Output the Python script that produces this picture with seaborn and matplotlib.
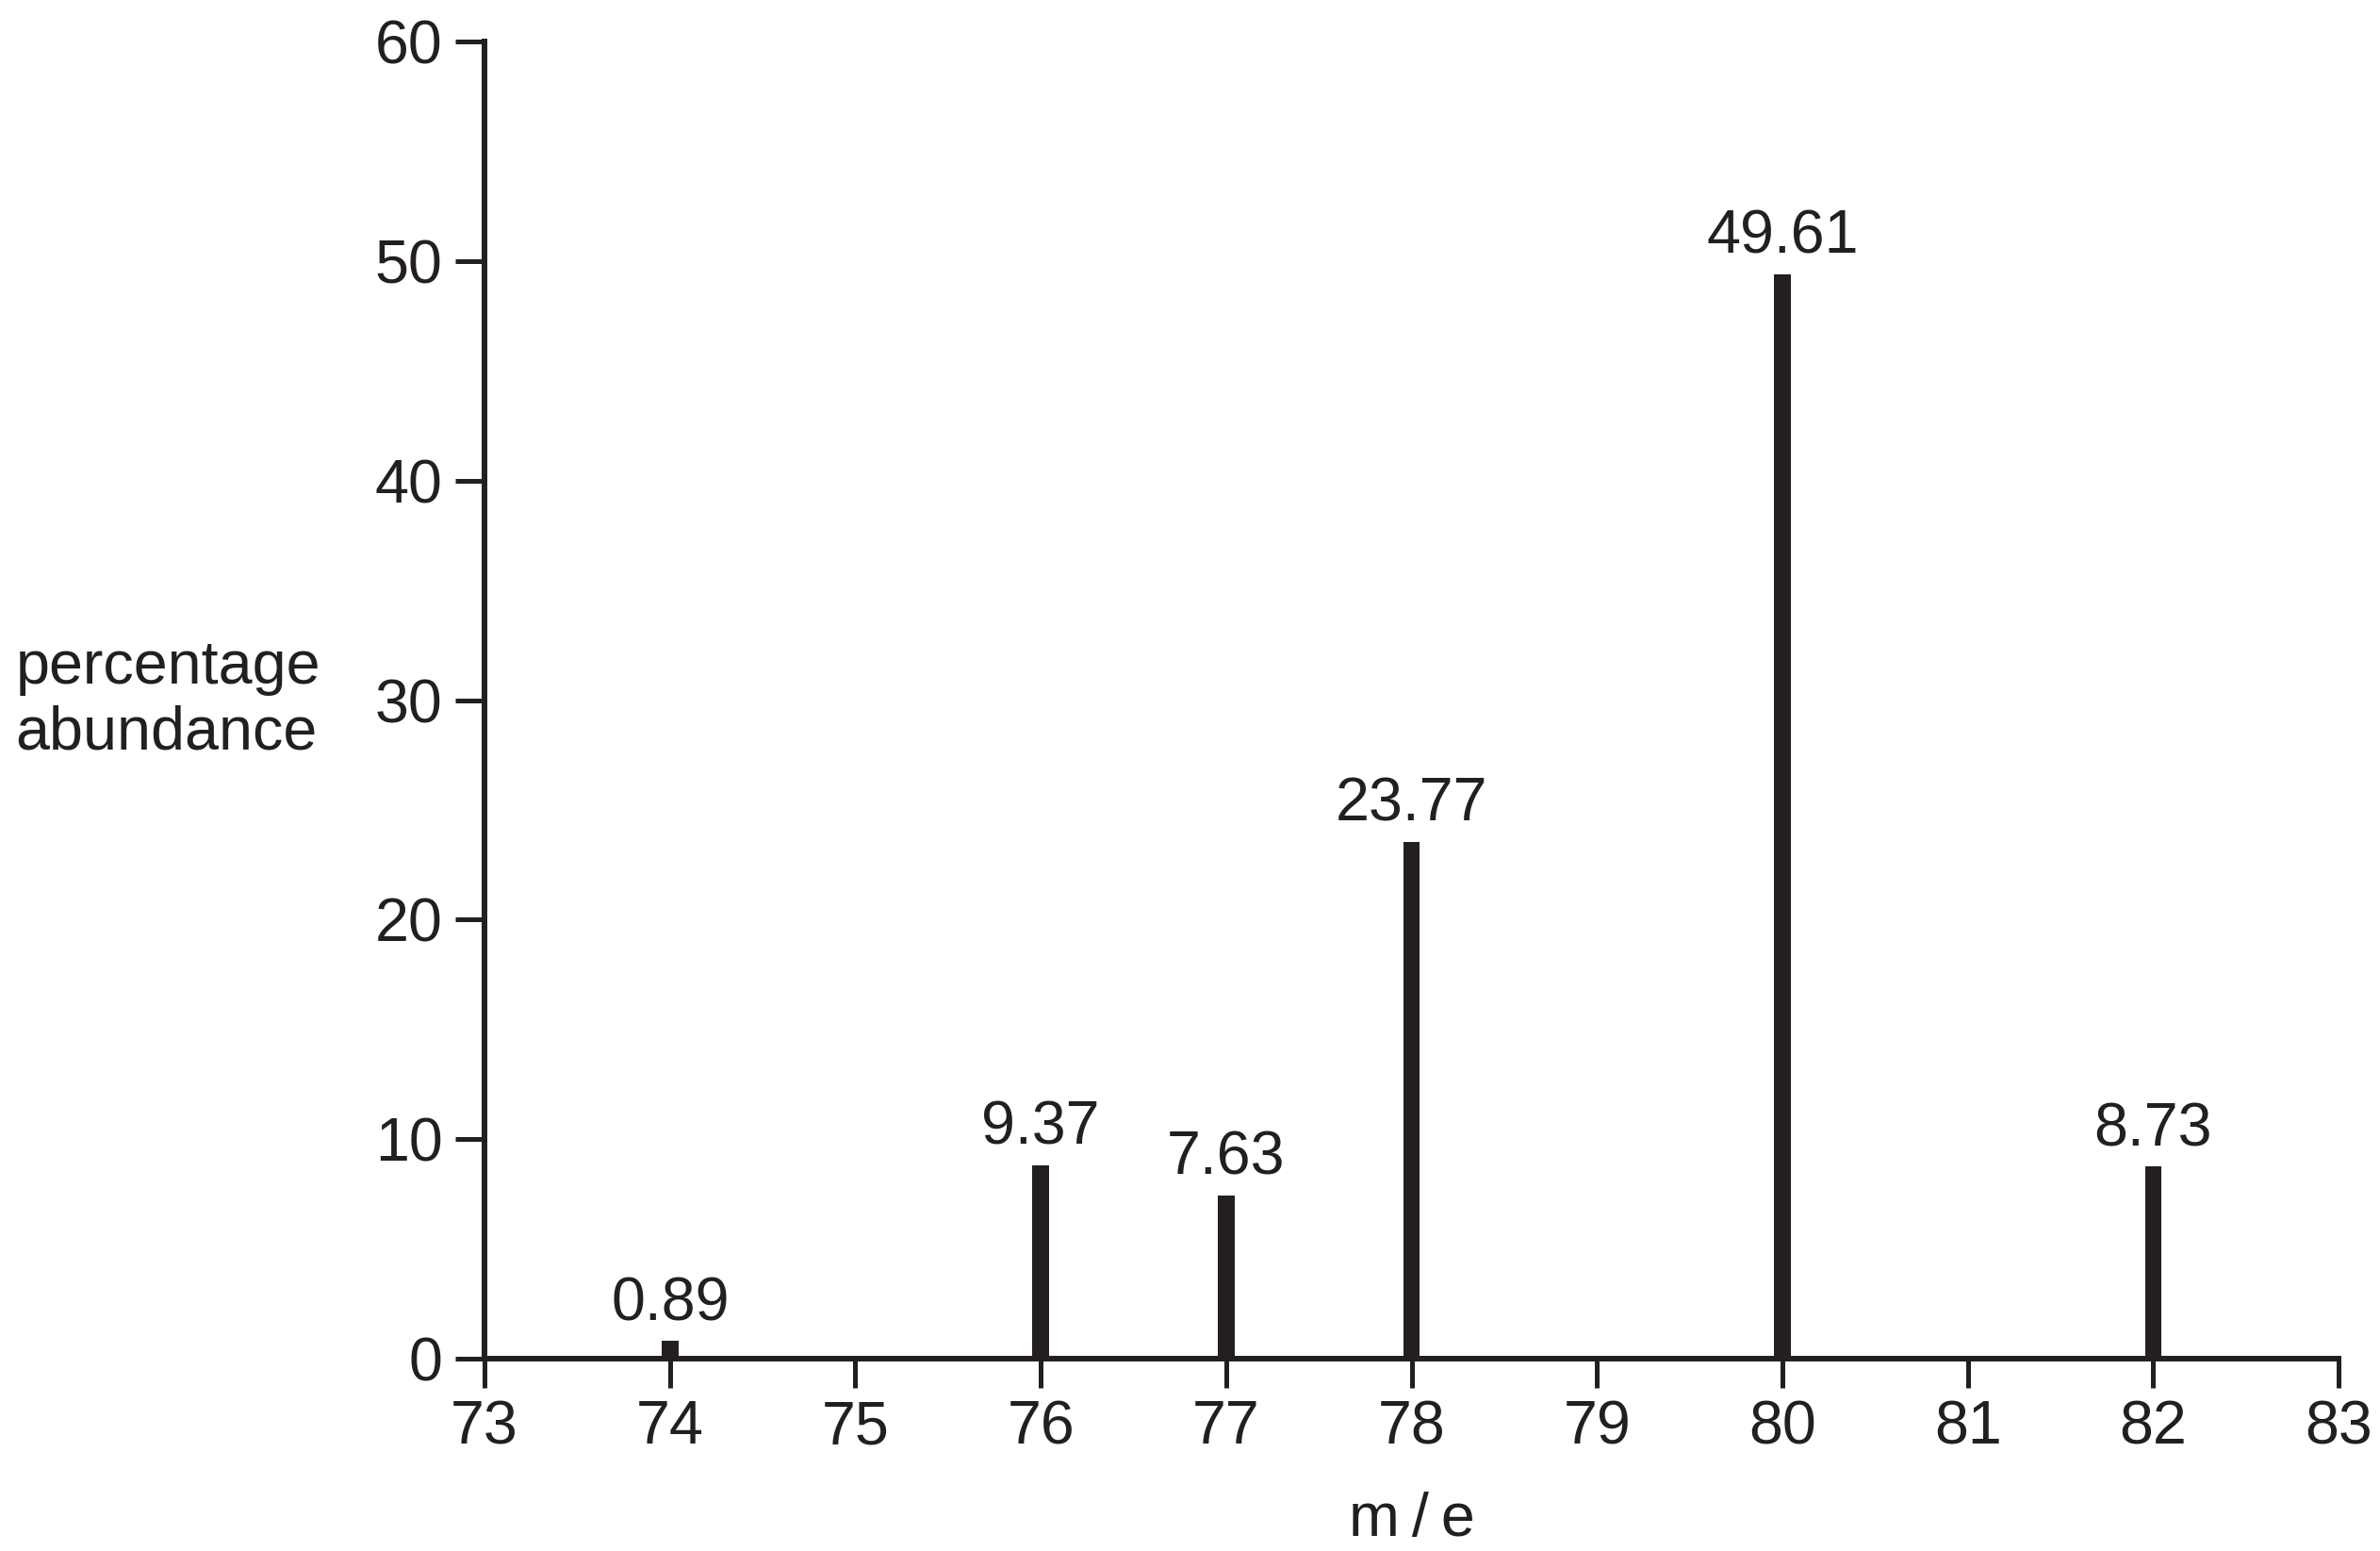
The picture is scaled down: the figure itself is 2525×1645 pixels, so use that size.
import numpy as np
import seaborn as sns
import matplotlib.pyplot as plt

# mass spectrum peaks (m/e) with printed abundances
mass = [74, 76, 77, 78, 80, 82]
# bar heights as drawn in the figure (the 76 peak is drawn a bit lower than its label)
heights = [0.80, 8.80, 7.45, 23.55, 49.40, 8.75]
labels = ["0.89", "9.37", "7.63", "23.77", "49.61", "8.73"]

x_ticks = list(range(73, 84))
y_ticks = [0, 10, 20, 30, 40, 50, 60]

ink = "#231f20"

sns.set_style("ticks")
plt.rcParams['font.family'] = ['Liberation Sans', 'DejaVu Sans']
plt.rcParams['text.color'] = ink
plt.rcParams['axes.labelcolor'] = ink
plt.rcParams['xtick.color'] = ink
plt.rcParams['ytick.color'] = ink

fig = plt.figure(figsize=(25.25, 16.45), dpi=100)
ax = fig.add_axes([0.2036, 0.124, 0.779, 0.849])

sns.barplot(x=mass, y=heights, native_scale=True, width=0.09,
            color=ink, saturation=1, linewidth=0, errorbar=None, ax=ax)

# value labels above each peak
for m, h, lab in zip(mass, heights, labels):
  ax.annotate(lab, (m, h), xytext=(0, 16), textcoords="offset points",
              ha="center", va="baseline", fontsize=46.5, color=ink)

ax.set_xlim(73, 83)
ax.set_ylim(0, 60)
ax.set_xticks(x_ticks)
ax.set_xticklabels([str(t) for t in x_ticks])
ax.set_yticks(y_ticks)
ax.set_yticklabels([str(t) for t in y_ticks])

sns.despine(ax=ax)
for side in ["left", "bottom"]:
  ax.spines[side].set_linewidth(4.3)
  ax.spines[side].set_color(ink)

ax.tick_params(axis="both", length=22, width=3.6, labelsize=46.5, direction="out")
ax.tick_params(axis="x", pad=9)
ax.tick_params(axis="y", pad=10)

ax.set_xlabel("m\u2009/\u2009e", fontsize=46.5, labelpad=27)
ax.set_ylabel("percentage\nabundance", fontsize=46.5, rotation=0,
              ha="left", va="center", multialignment="left")
ax.yaxis.set_label_coords(-0.253, 0.5)

plt.savefig("out.png", dpi=100)
